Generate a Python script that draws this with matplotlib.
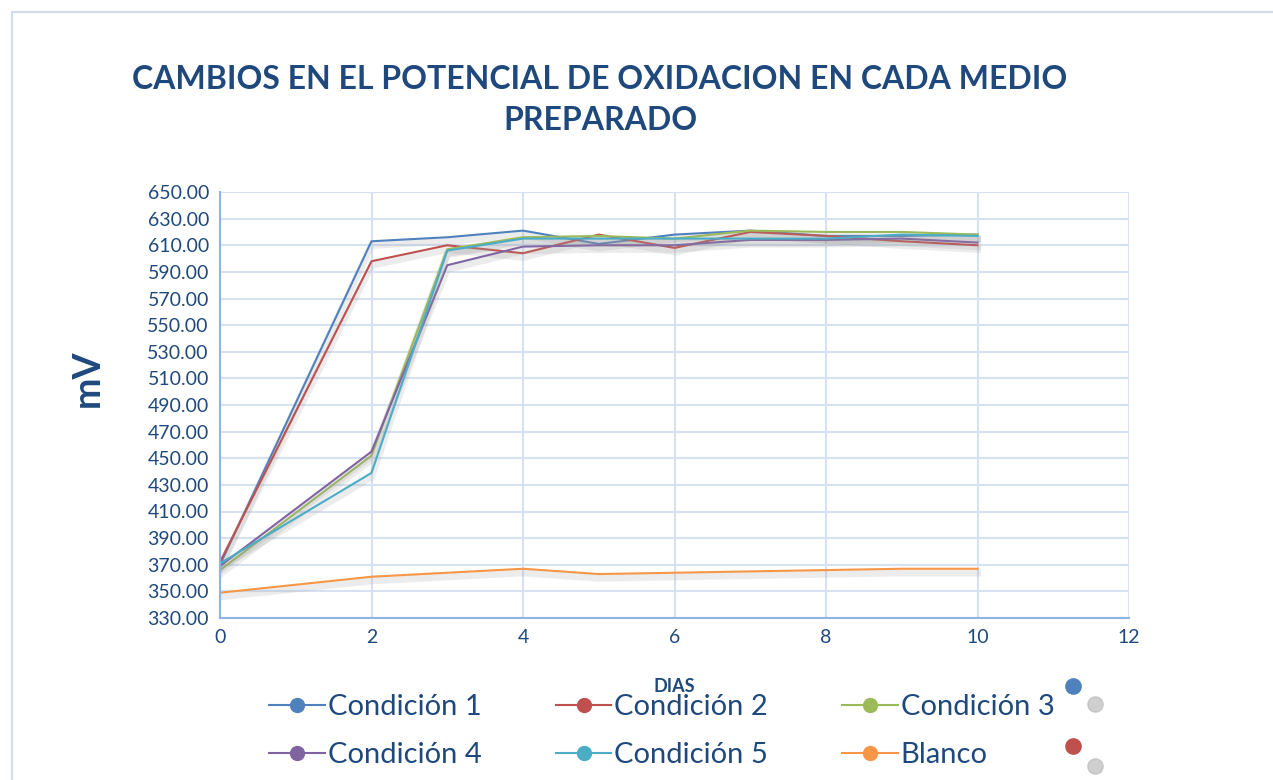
import matplotlib.pyplot as plt
import matplotlib.patheffects as pe
from matplotlib.patches import Rectangle
from matplotlib.lines import Line2D

# data
dias = [0, 2, 3, 4, 5, 6, 7, 8, 9, 10]
cond1 = [370, 613, 616, 621, 611, 618, 621, 617, 617, 618]
cond2 = [372, 598, 610, 604, 618, 608, 620, 617, 613, 610]
cond3 = [366, 452, 607, 616, 617, 615, 621, 620, 620, 618]
cond4 = [369, 455, 595, 609, 610, 610, 614, 614, 615, 612]
cond5 = [371, 439, 606, 615, 615, 615, 615, 615, 618, 617]
blanco = [349, 361, 364, 367, 363, 364, 365, 366, 367, 367]

labels = ["Condición 1", "Condición 2", "Condición 3",
          "Condición 4", "Condición 5", "Blanco"]
colors = ["#4F81BD", "#C0504D", "#9BBB59", "#8064A2", "#4BACC6", "#F79646"]
series = [cond1, cond2, cond3, cond4, cond5, blanco]

txt = "#1F497D"
grid_c = "#D6E2F2"
spine_c = "#8EB4E3"
plt.rcParams['font.family'] = ['Lato', 'DejaVu Sans']

fig = plt.figure(figsize=(12.73, 7.8), dpi=100)
ax = fig.add_axes([220/1273, 1-618/780, (1129-220)/1273, (618-192)/780])

shadow = [pe.SimpleLineShadow(offset=(0, -3), shadow_color="#999999", alpha=0.18, linewidth=5),
          pe.Normal()]
for ys, c, lab in zip(series, colors, labels):
    ax.plot(dias, ys, color=c, lw=1.5, label=lab, path_effects=shadow)

ax.set_xlim(0, 12)
ax.set_ylim(330, 650)
ax.set_xticks(range(0, 13, 2))
ax.set_yticks(range(330, 651, 20))
ax.set_yticklabels([f"{v:.2f}" for v in range(330, 651, 20)])
ax.grid(True, color=grid_c, lw=1.5)
ax.set_axisbelow(True)
ax.tick_params(length=0, labelsize=14, colors=txt, pad=8)
for s in ["top", "right"]:
    ax.spines[s].set_visible(False)
for s in ["left", "bottom"]:
    ax.spines[s].set_color(spine_c)
    ax.spines[s].set_linewidth(1.5)

fig.text(88/1273, 1-378/780, "mV", rotation=90, ha="center", va="center",
         fontsize=27, fontweight="bold", color=txt)
fig.text(674/1273, 1-686/780, "DIAS", ha="center", va="center",
         fontsize=13, fontweight="bold", color=txt)
fig.text(600/1273, 1-100/780, "CAMBIOS EN EL POTENCIAL DE OXIDACION EN CADA MEDIO\nPREPARADO",
         ha="center", va="center", fontsize=23, fontweight="bold", color=txt,
         linespacing=1.5)

handles = [Line2D([0], [0], color=c, lw=1.5, marker="o", markersize=10,
                  markerfacecolor=c, markeredgecolor=c) for c in colors]
# legend fills column by column, so reorder to get row-wise layout
order = [0, 3, 1, 4, 2, 5]
fig.legend([handles[i] for i in order], [labels[i] for i in order], ncol=3,
           loc="center", bbox_to_anchor=(662/1273, 1-731/780),
           frameon=False, fontsize=21, labelcolor=txt, handlelength=1.9,
           handletextpad=0.1, columnspacing=2.55, labelspacing=0.75)

# stray marker artifacts to the right of the legend
fig.add_artist(Line2D([1073/1273], [1-686/780], marker="o", color="#4F81BD", markersize=11))
fig.add_artist(Line2D([1095/1273], [1-704/780], marker="o", color="#BBBBBB", markersize=11, alpha=0.7))
fig.add_artist(Line2D([1073/1273], [1-746/780], marker="o", color="#C0504D", markersize=11))
fig.add_artist(Line2D([1095/1273], [1-766/780], marker="o", color="#BBBBBB", markersize=11, alpha=0.7))

# chart frame
fig.add_artist(Rectangle((12/1273, -0.1), 1.2, 1-12/780+0.1, transform=fig.transFigure,
                         fill=False, edgecolor="#D0DDEE", lw=1.5))

fig.savefig("out.png", dpi=100, facecolor="white")
